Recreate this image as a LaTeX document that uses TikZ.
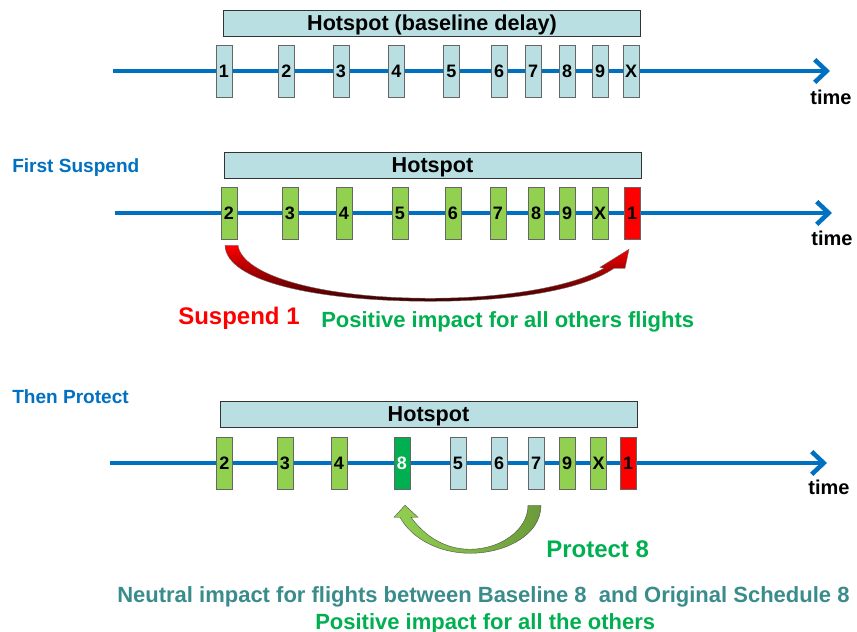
\documentclass[tikz,border=0pt]{standalone}
\usepackage{fontspec}
\setmainfont{Liberation Sans}
\usetikzlibrary{arrows.meta,calc}
\definecolor{axisblue}{HTML}{0070C0}
\definecolor{hsblue}{HTML}{B9DFE2}
\definecolor{lgreen}{HTML}{92D050}
\definecolor{dgreen}{HTML}{00B050}
\definecolor{olivegreen}{HTML}{6B9B3A}
\definecolor{tealtext}{HTML}{3A8C8C}
\tikzset{
    flight/.style={draw=black!60, minimum width=12pt, minimum height=39pt, inner sep=0pt,
        font=\fontsize{13.5}{15}\selectfont\bfseries},
    hotspot/.style={draw=black!80, fill=hsblue, minimum width=313pt, minimum height=19.5pt,
        inner sep=0pt, text depth=0pt, font=\fontsize{16.2}{18}\selectfont\bfseries},
    timeline/.style={axisblue, line width=3.4pt, -{Straight Barb[length=9pt,width=17pt]}},
    timelabel/.style={font=\fontsize{15}{17}\selectfont\bfseries},
    steptitle/.style={anchor=base west, inner sep=0pt, text=axisblue,
        font=\fontsize{14.3}{16}\selectfont\bfseries},
    biglabel/.style={anchor=base west, inner sep=0pt, font=\fontsize{18}{20}\selectfont\bfseries},
    note/.style={anchor=base west, inner sep=0pt, font=\fontsize{16.5}{20}\selectfont\bfseries}
}
\begin{document}
\begin{tikzpicture}[x=0.75pt, y=-0.75pt]
    \useasboundingbox (0,0) rectangle (857,632);

    % baseline delay
    \node[hotspot] (hs-a) at (432,23) {Hotspot (baseline delay)};
    \coordinate (a-start) at (113,71);
    \coordinate (a-end) at (830,71);
    \draw[timeline] (a-start) -- (a-end);
    \foreach \n/\x in {1/224,2/286.5,3/341,4/396.5,5/451.5,6/499,7/533,8/567,9/600,X/631}
        \node[flight, fill=hsblue] (a-\n) at (\x,71) {\n};
    \node[timelabel] (time-a) at (831,97) {time};

    % first suspend
    \node[steptitle] (title-b) at (12,172) {First Suspend};
    \node[hotspot] (hs-b) at (432.5,165.5) {Hotspot};
    \coordinate (b-start) at (115,213);
    \coordinate (b-end) at (832,213);
    \draw[timeline] (b-start) -- (b-end);
    \foreach \n/\x/\c in {2/229/lgreen,3/290/lgreen,4/344/lgreen,5/400/lgreen,6/453/lgreen,
                          7/498/lgreen,8/536/lgreen,9/567/lgreen,X/600/lgreen,1/632/red}
        \node[flight, fill=\c] (b-\n) at (\x,213) {\n};
    \node[timelabel] (time-b) at (832,238) {time};
    \coordinate (sm) at ($(b-2.south)!0.5!(b-1.south)$);
    \path[draw=black!60, line width=0.3pt, top color=red, bottom color=black!75!red]
        ($(b-2.south)+(-4,6)$) .. controls ($(b-2.south)+(-3,43)$) and ($(b-2.south)+(91,62)$) .. ($(sm)+(0,62)$)
        .. controls ($(sm)+(89.5,62)$) and ($(b-1.south)+(-47,49)$) .. ($(b-1.south)+(-18,29)$)
        -- ($(b-1.south)+(-7,29)$) -- ($(b-1.south)+(-3,10)$) -- ($(b-1.south)+(-32,28)$)
        -- ($(b-1.south)+(-28,29)$)
        .. controls ($(b-1.south)+(-57,46)$) and ($(sm)+(79.5,59)$) .. ($(sm)+(0,59)$)
        .. controls ($(b-2.south)+(91,59)$) and ($(b-2.south)+(13,36)$) .. ($(b-2.south)+(9,6)$) -- cycle;
    \node[biglabel, text=red] (suspend) at (178,324) {Suspend 1};
    \node[note, text=dgreen] (gain-b) at (321,327) {Positive impact for all others flights};

    % then protect
    \node[steptitle] (title-c) at (12,403) {Then Protect};
    \node[hotspot] (hs-c) at (428.5,414.5) {Hotspot};
    \coordinate (c-start) at (110,463);
    \coordinate (c-end) at (827,463);
    \draw[timeline] (c-start) -- (c-end);
    \foreach \n/\x/\c/\t in {2/224.5/lgreen/black,3/285/lgreen/black,4/339/lgreen/black,
                             8/402/dgreen/white,5/458/hsblue/black,6/499/hsblue/black,
                             7/536/hsblue/black,9/567/lgreen/black,X/598.5/lgreen/black,1/628/red/black}
        \node[flight, fill=\c, text=\t] (c-\n) at (\x,463) {\n};
    \node[timelabel] (time-c) at (829,487) {time};
    \coordinate (pm) at ($(c-7.south)!0.5!(c-8.south)$);
    \path[draw=black!70, line width=0.3pt, left color=lgreen, right color=olivegreen]
        ($(c-7.south)+(5,16)$) .. controls ($(c-7.south)+(5,46)$) and ($(pm)+(36,64)$) .. ($(pm)+(1,64)$)
        .. controls ($(pm)+(-29,64)$) and ($(c-8.south)+(10,50)$) .. ($(c-8.south)+(-2,28)$)
        -- ($(c-8.south)+(-8,28)$) -- ($(c-8.south)+(3,16)$) -- ($(c-8.south)+(16,28)$)
        -- ($(c-8.south)+(9,28)$)
        .. controls ($(c-8.south)+(23,47)$) and ($(pm)+(-24,60)$) .. ($(pm)+(1,60)$)
        .. controls ($(pm)+(31,60)$) and ($(c-7.south)+(-8,41)$) .. ($(c-7.south)+(-8,16)$) -- cycle;
    \node[biglabel, text=dgreen] (protect) at (546,557) {Protect 8};

    % impact
    \node[note, text=tealtext] (neutral) at (117,602) {Neutral impact for flights between Baseline 8\ \ and Original Schedule 8};
    \node[note, text=dgreen] (gain-c) at (315,629) {Positive impact for all the others};
\end{tikzpicture}
\end{document}
